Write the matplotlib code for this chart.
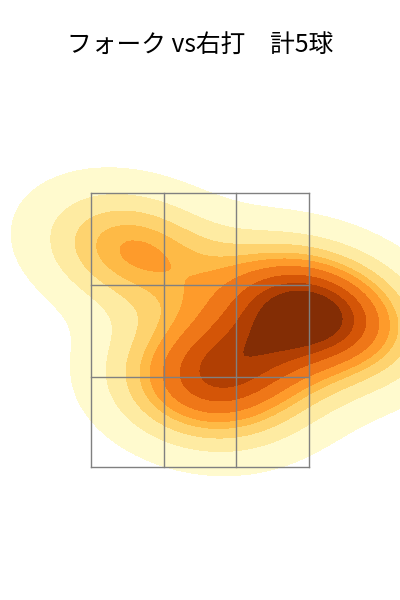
import matplotlib
matplotlib.use("Agg")
import matplotlib.pyplot as plt
import seaborn as sns

plt.rcParams['font.family'] = ['Noto Sans CJK JP', 'DejaVu Sans']

title = "フォーク vs右打　計5球"
# pitch locations, in strike zone cells (0-3 both ways, from top left)
pitch_x = [0.56, 1.43, 2.81, 2.09, 3.38]
pitch_y = [0.62, 2.18, 1.14, 1.81, 1.42]
zone_x = [0, 1, 2, 3]
zone_y = [0, 1.007, 2.015, 3]

fig = plt.figure(figsize=(4, 6), dpi=100)
ax = fig.add_axes([0, 0, 1, 1])

sns.kdeplot(x=pitch_x, y=pitch_y, fill=True, cmap="YlOrBr", ax=ax, levels=10, thresh=0.05, cut=6)

for x in zone_x:
    ax.plot([x, x], [zone_y[0], zone_y[-1]], color="gray", lw=1.0)
for y in zone_y:
    ax.plot([zone_x[0], zone_x[-1]], [y, y], color="gray", lw=1.0)

# 1 cell is 72.7 px wide and 91.3 px high
ax.set_xlim(-91 / 72.7, (400 - 91) / 72.7)
ax.set_ylim((600 - 193) / 91.3, -193 / 91.3)
ax.axis("off")

fig.text(0.5, 0.926, title, ha="center", va="center", fontsize=17.8)
fig.savefig("out.png", dpi=100)
